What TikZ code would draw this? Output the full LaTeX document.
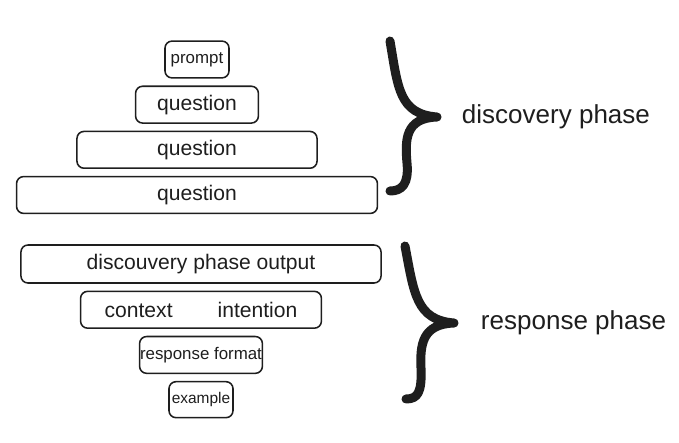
\documentclass[tikz,border=0pt]{standalone}
\usepackage{fontspec}
\setmainfont{Liberation Sans}
\usetikzlibrary{positioning}
\definecolor{ink}{HTML}{1E1E1E}

\begin{document}
\begin{tikzpicture}[x=0.025cm,y=-0.025cm,node distance=0.17cm,line join=round]
	\tikzset{block/.style={draw=ink, text=ink, rounded corners=5pt, line width=1.1pt, inner sep=0pt, minimum height=0.92cm, font=\fontsize{15}{18}\selectfont}}
	\tikzset{small/.style={font=\fontsize{12}{14}\selectfont}}
	\tikzset{brace/.style={draw=ink, line width=6.4pt, line cap=round}}
	\tikzset{phase/.style={text=ink, font=\fontsize{18.5}{22}\selectfont}}
	\useasboundingbox (0,0) rectangle (679,442);
	% discovery phase
	\node[block, small, minimum width=1.6cm] (prompt) at (197,59.5) {prompt};
	\node[block, minimum width=3.07cm, below=of prompt] (q1) {question};
	\node[block, minimum width=6cm, below=of q1] (q2) {question};
	\node[block, minimum width=9.02cm, below=of q2] (q3) {question};
	% response phase
	\node[block, minimum width=9cm, minimum height=0.95cm] (output) at (201,264) {discouvery phase output};
	\node[block, minimum width=6.02cm, below=of output] (ctx) {context\hspace{32pt}intention};
	\node[block, small, minimum width=3.07cm, below=of ctx] (format) {response format};
	\node[block, minimum width=1.6cm, minimum height=0.9cm, font=\fontsize{11}{13}\selectfont, below=of format] (example) {example};
	% braces
	\coordinate (d top) at (390,41);
	\coordinate (d tip) at (437,117);
	\coordinate (d bot) at (390,191);
	\draw[brace] (d top) .. controls (398,88) and (399,114) .. (d tip)
		(d tip) .. controls (405,118) and (405,140) .. (407,163)
		.. controls (409,184) and (402,191) .. (d bot);
	\coordinate (r top) at (405,246);
	\coordinate (r tip) at (454,323);
	\coordinate (r bot) at (406,399);
	\draw[brace] (r top) .. controls (414,293) and (416,320) .. (r tip)
		(r tip) .. controls (422,324) and (420,345) .. (421,368)
		.. controls (422,392) and (418,399) .. (r bot);
	\node[phase, right=0.5cm of d tip] (discovery) {discovery phase};
	\node[phase, right=0.55cm of r tip] (response) {response phase};
\end{tikzpicture}
\end{document}
